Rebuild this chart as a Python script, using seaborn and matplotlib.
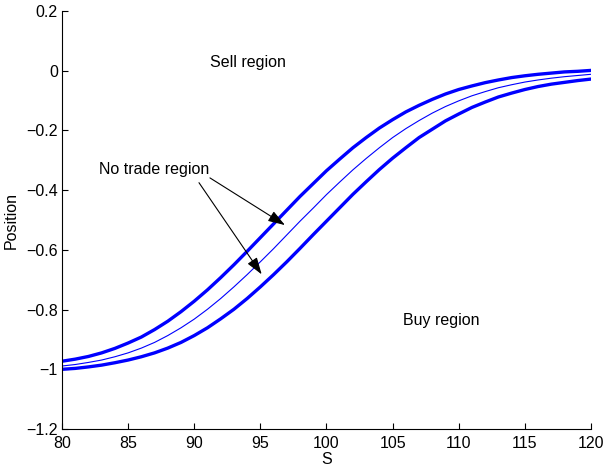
import matplotlib
matplotlib.use("Agg")
import matplotlib.pyplot as plt
import pandas as pd
import seaborn as sns

# stock price grid and the three position curves
s_grid = list(range(80, 121))
upper_bound = [-0.973, -0.966, -0.957, -0.945, -0.930, -0.912, -0.892, -0.867, -0.839, -0.807,
               -0.772, -0.734, -0.693, -0.650, -0.605, -0.559, -0.513, -0.467, -0.421, -0.378,
               -0.335, -0.296, -0.258, -0.224, -0.192, -0.164, -0.138, -0.116, -0.096, -0.078,
               -0.063, -0.051, -0.040, -0.031, -0.023, -0.017, -0.012, -0.008, -0.004, -0.002,
               0.001]
middle_line = [-0.989, -0.984, -0.977, -0.969, -0.958, -0.945, -0.929, -0.910, -0.887, -0.861,
               -0.832, -0.799, -0.763, -0.724, -0.683, -0.640, -0.596, -0.550, -0.504, -0.460,
               -0.415, -0.373, -0.332, -0.294, -0.258, -0.224, -0.194, -0.167, -0.142, -0.120,
               -0.101, -0.084, -0.070, -0.057, -0.047, -0.038, -0.031, -0.025, -0.020, -0.016,
               -0.012]
lower_bound = [-1.000, -0.997, -0.992, -0.986, -0.978, -0.969, -0.958, -0.945, -0.929, -0.910,
               -0.887, -0.861, -0.831, -0.799, -0.763, -0.724, -0.683, -0.640, -0.595, -0.549,
               -0.504, -0.459, -0.414, -0.372, -0.331, -0.293, -0.258, -0.224, -0.196, -0.168,
               -0.145, -0.123, -0.105, -0.088, -0.075, -0.063, -0.053, -0.045, -0.039, -0.033,
               -0.028]

x_ticks = [80, 85, 90, 95, 100, 105, 110, 115, 120]
y_ticks = [-1.2, -1.0, -0.8, -0.6, -0.4, -0.2, 0.0, 0.2]
y_tick_labels = ["\u22121.2", "\u22121", "\u22120.8", "\u22120.6", "\u22120.4", "\u22120.2", "0", "0.2"]

sns.set_style("ticks")
plt.rcParams["font.family"] = ["Liberation Sans", "DejaVu Sans"]
plt.rcParams["font.size"] = 11.5
plt.rcParams["text.color"] = "black"
plt.rcParams["axes.labelcolor"] = "black"

df = pd.DataFrame({"S": s_grid, "upper": upper_bound, "middle": middle_line, "lower": lower_bound})

fig = plt.figure(figsize=(6.03, 4.68), dpi=100)
ax = fig.add_axes([0.1028, 0.0833, 0.8772, 0.8932])

line_kw = dict(x="S", color="#0000ff", ax=ax, solid_joinstyle="round")
sns.lineplot(data=df, y="upper", linewidth=2.4, **line_kw)
sns.lineplot(data=df, y="middle", linewidth=0.8, **line_kw)
sns.lineplot(data=df, y="lower", linewidth=2.4, **line_kw)

ax.set_xlim(80, 120)
ax.set_ylim(-1.2, 0.2)
ax.set_xticks(x_ticks)
ax.set_yticks(y_ticks)
ax.set_yticklabels(y_tick_labels)
ax.tick_params(direction="in", length=4, width=0.8, labelsize=11.5, colors="black")
ax.tick_params(axis="x", pad=5)
ax.tick_params(axis="y", pad=3)
for side in ["top", "right"]:
    ax.spines[side].set_visible(False)
for side in ["left", "bottom"]:
    ax.spines[side].set_linewidth(0.8)
    ax.spines[side].set_color("black")

ax.set_xlabel("S", fontsize=11.5, labelpad=1)
ax.set_ylabel("Position", fontsize=11.5, labelpad=5)

ax.text(91.19, 0.026, "Sell region", fontsize=11.5, va="center", ha="left")
ax.text(105.8, -0.838, "Buy region", fontsize=11.5, va="center", ha="left")
ax.text(82.8, -0.330, "No trade region", fontsize=11.5, va="center", ha="left")

arrow_style = dict(arrowstyle="-|>,head_length=0.9,head_width=0.3", color="black",
                   lw=0.8, shrinkA=0, shrinkB=0)
ax.annotate("", xy=(96.86, -0.517), xytext=(91.19, -0.359), arrowprops=arrow_style)
ax.annotate("", xy=(95.10, -0.682), xytext=(90.36, -0.375), arrowprops=arrow_style)

fig.savefig("out.png", dpi=100)
